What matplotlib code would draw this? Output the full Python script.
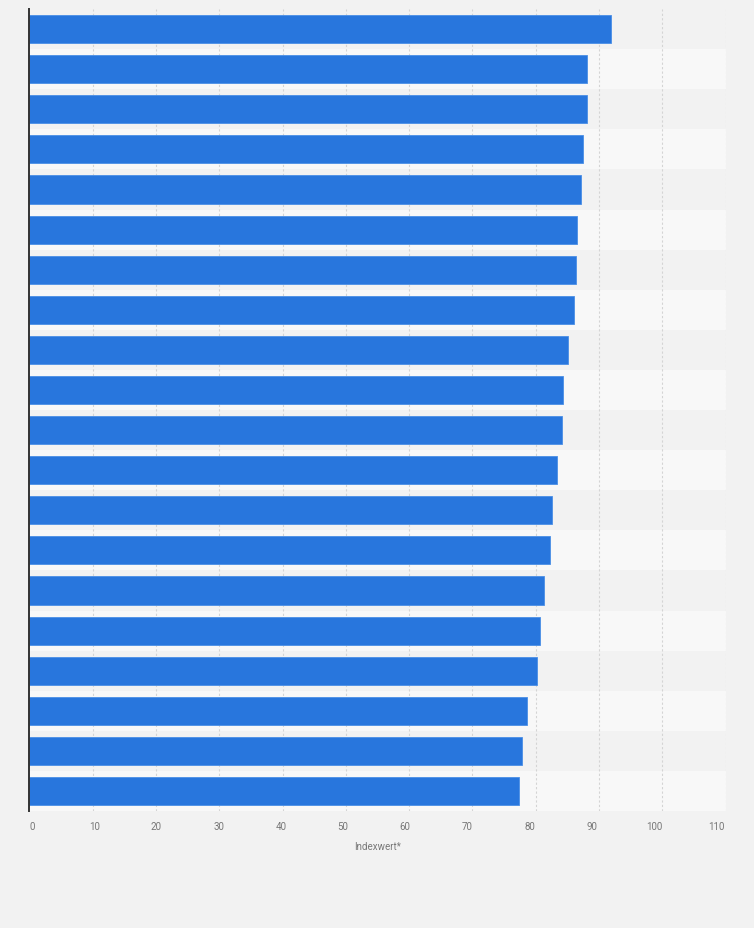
import matplotlib
matplotlib.use("Agg")
import matplotlib.pyplot as plt
import matplotlib.transforms as mtransforms

# values, top bar first (no category labels shown)
ranks = list(range(1, 21))
values = [91.9, 88.1, 88.1, 87.4, 87.1, 86.5, 86.3, 86.0, 85.1, 84.3,
          84.1, 83.3, 82.5, 82.2, 81.3, 80.6, 80.2, 78.6, 77.8, 77.3]
xticks = [0, 10, 20, 30, 40, 50, 60, 70, 80, 90, 100, 110]
xlabel = 'Indexwert*'

plt.rcParams['font.family'] = ['Roboto', 'DejaVu Sans']

bg = '#f2f2f2'
band = '#f8f8f8'
blue = '#2876dd'

fig = plt.figure(figsize=(7.54, 9.29), dpi=100)
fig.patch.set_facecolor(bg)
ax = fig.add_axes([0.0391, 0.1259, 0.9233, 0.8633])
ax.set_facecolor(bg)

pos = list(range(len(ranks)))
# alternating row bands
for i in pos:
    if i % 2 == 1:
        ax.axhspan(i - 0.5, i + 0.5, color=band, zorder=0, lw=0)

ax.barh(pos, values, height=0.7, color=blue, edgecolor='#4a8fe6',
        linewidth=0.6, zorder=3)

ax.set_xlim(0, 110)
ax.set_ylim(len(ranks) - 0.5, -0.5)
ax.set_xticks(xticks)
ax.set_yticks([])
ax.tick_params(axis='x', length=0, pad=7.5, labelsize=7, labelcolor='#777777')
for x in xticks[1:]:
    ax.axvline(x, color='#d4d4d4', linewidth=0.8, linestyle=(0, (2, 2)), zorder=1)

# labels in the original sit on a slightly narrower spread than the grid
for i, lab in enumerate(ax.get_xticklabels()):
    shift = (2.5 - 1.08 * i) / 100.0
    lab.set_transform(lab.get_transform() +
                      mtransforms.ScaledTranslation(shift, 0, fig.dpi_scale_trans))

for s in ['top', 'right', 'bottom']:
    ax.spines[s].set_visible(False)
ax.spines['left'].set_color('#333333')
ax.spines['left'].set_linewidth(1.4)
ax.spines['left'].set_zorder(4)

ax.set_xlabel(xlabel, fontsize=7, color='#777777', labelpad=7)

fig.savefig('out.png', dpi=100, facecolor=bg)
